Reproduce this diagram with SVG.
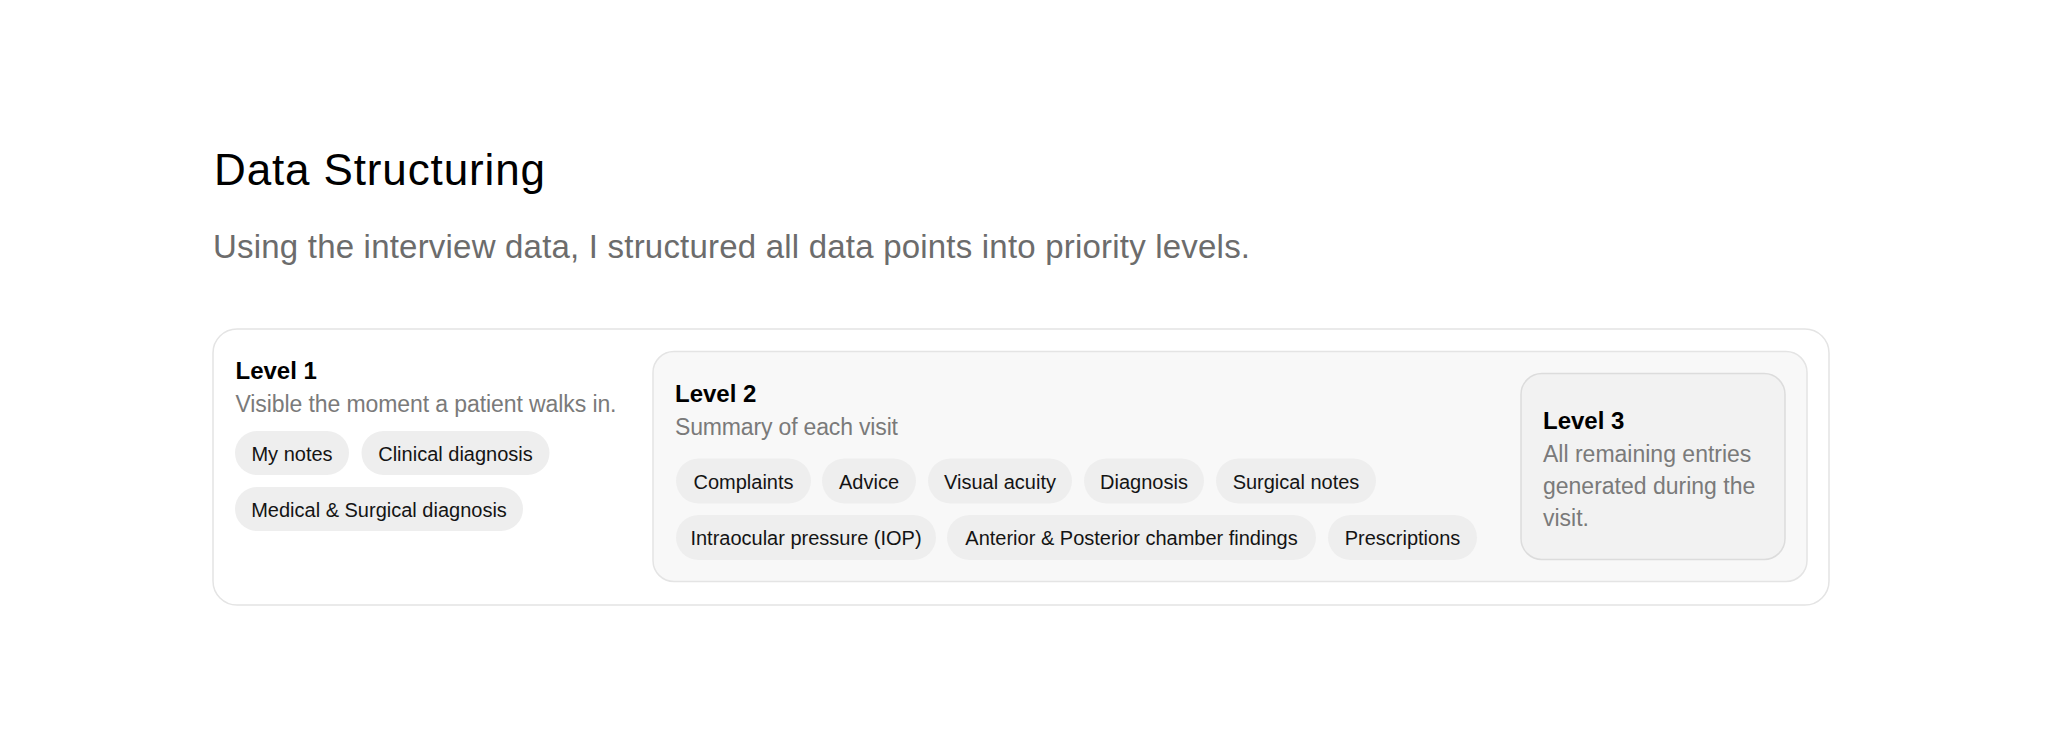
<svg xmlns="http://www.w3.org/2000/svg" width="2048" height="747" viewBox="0 0 2048 747">
<style>
text { font-family: "Liberation Sans", Arial, sans-serif; }
.h1 { font-size: 44px; fill: #000; }
.lead { font-size: 33px; fill: #6c6c6c; }
.lvl { font-size: 24px; font-weight: 700; fill: #000; }
.sub { font-size: 23px; fill: #7a7a7a; }
.chip rect { fill: #eeeeee; }
.chip text { font-size: 20px; fill: #141414; text-anchor: middle; }
</style>
<rect width="2048" height="747" fill="#ffffff"/>
<text class="h1" x="214" y="185" textLength="331">Data Structuring</text>
<text class="lead" x="213" y="258" textLength="1037">Using the interview data, I structured all data points into priority levels.</text>

<g id="outer">
<rect x="213" y="329" width="1616" height="276" rx="24" fill="#ffffff" stroke="#e4e4e4" stroke-width="1.5"/>
</g>

<g id="level1">
<text class="lvl" x="235.5" y="379">Level 1</text>
<text class="sub" x="235.5" y="411.5" textLength="381">Visible the moment a patient walks in.</text>
<g class="chip" id="chip-my-notes"><rect x="235" y="431" width="114" height="44" rx="22"/><text x="292" y="460.5">My notes</text></g>
<g class="chip" id="chip-clinical"><rect x="361.5" y="431" width="188" height="44" rx="22"/><text x="455.5" y="460.5">Clinical diagnosis</text></g>
<g class="chip" id="chip-medical"><rect x="235" y="487" width="288" height="44" rx="22"/><text x="379" y="516.5">Medical &amp; Surgical diagnosis</text></g>
</g>

<g id="level2">
<rect x="653" y="351.5" width="1154" height="230" rx="21" fill="#f8f8f8" stroke="#e4e4e4" stroke-width="1.5"/>
<text class="lvl" x="675" y="402">Level 2</text>
<text class="sub" x="675" y="434.5" textLength="223">Summary of each visit</text>
<g class="chip" id="chip-complaints"><rect x="676" y="458.5" width="135" height="45" rx="22.5"/><text x="743.5" y="488.5">Complaints</text></g>
<g class="chip" id="chip-advice"><rect x="822" y="458.5" width="94" height="45" rx="22.5"/><text x="869" y="488.5">Advice</text></g>
<g class="chip" id="chip-visual"><rect x="928" y="458.5" width="144" height="45" rx="22.5"/><text x="1000" y="488.5">Visual acuity</text></g>
<g class="chip" id="chip-diagnosis"><rect x="1084" y="458.5" width="120" height="45" rx="22.5"/><text x="1144" y="488.5">Diagnosis</text></g>
<g class="chip" id="chip-surgical"><rect x="1216" y="458.5" width="160" height="45" rx="22.5"/><text x="1296" y="488.5">Surgical notes</text></g>
<g class="chip" id="chip-iop"><rect x="676" y="515" width="260" height="45" rx="22.5"/><text x="806" y="545">Intraocular pressure (IOP)</text></g>
<g class="chip" id="chip-anterior"><rect x="947" y="515" width="369" height="45" rx="22.5"/><text x="1131.5" y="545">Anterior &amp; Posterior chamber findings</text></g>
<g class="chip" id="chip-prescriptions"><rect x="1328" y="515" width="149" height="45" rx="22.5"/><text x="1402.5" y="545">Prescriptions</text></g>
</g>

<g id="level3">
<rect x="1521" y="373.5" width="264" height="186" rx="21" fill="#f2f2f2" stroke="#dcdcdc" stroke-width="1.5"/>
<text class="lvl" x="1543" y="429">Level 3</text>
<text class="sub" x="1543" y="461.5">All remaining entries</text>
<text class="sub" x="1543" y="493.5">generated during the</text>
<text class="sub" x="1543" y="525.5">visit.</text>
</g>

<g id="connectors"/>
</svg>
